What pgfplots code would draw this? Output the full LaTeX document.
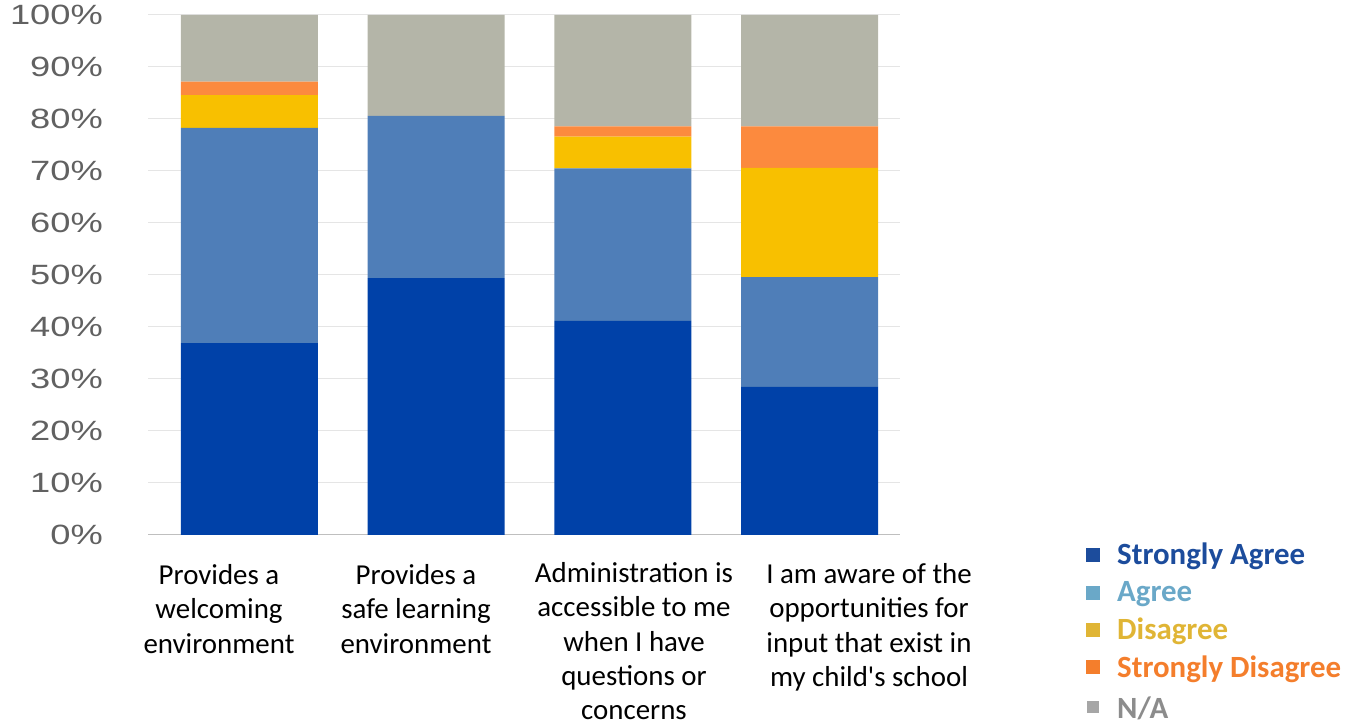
\documentclass[border=0pt]{standalone}
\usepackage{pgfplots}
\pgfplotsset{compat=1.18}
\usepackage{fontspec}
\setmainfont{Carlito}
\newfontfamily\tickfont{Liberation Sans}

\definecolor{sa}{HTML}{0041A8}
\definecolor{ag}{HTML}{4F7EB8}
\definecolor{di}{HTML}{F8C000}
\definecolor{sd}{HTML}{FC8A3E}
\definecolor{na}{HTML}{B4B5A8}
% legend colours
\definecolor{lsa}{HTML}{1C4C9C}
\definecolor{lag}{HTML}{6AA8C8}
\definecolor{ldi}{HTML}{E0B535}
\definecolor{lsd}{HTML}{F47E2C}
\definecolor{lna}{HTML}{8C8C8C}

\begin{document}
\begin{tikzpicture}
\path[use as bounding box] (0,0) rectangle (1363bp,727bp);
\begin{axis}[
    at={(148bp,192bp)}, anchor=south west,
    scale only axis, width=752bp, height=520bp,
    ybar stacked, bar width=0.733,
    xmin=-0.543, xmax=3.484, ymin=0, ymax=100,
    xtick=\empty, ytick={0,10,...,100},
    axis line style={draw=none}, major tick length=0pt,
    ymajorgrids, grid style={draw=black!10, line width=1bp},
    /pgf/number format/assume math mode=true,
    yticklabel={\scalebox{1.3}[1]{\tickfont\pgfmathprintnumber{\tick}\%}},
    yticklabel style={font=\fontsize{28}{28}\selectfont, text=black!62,
        anchor=east, inner sep=0pt, xshift=-45bp},
    every axis plot/.append style={draw=none},
]
\addplot[fill=sa] coordinates {(0,36.9) (1,49.4) (2,41.2) (3,28.5)};
\addplot[fill=ag] coordinates {(0,41.4) (1,31.2) (2,29.3) (3,21.1)};
\addplot[fill=di] coordinates {(0,6.3) (1,0) (2,6.1) (3,21.0)};
\addplot[fill=sd] coordinates {(0,2.6) (1,0) (2,2.0) (3,8.0)};
\addplot[fill=na] coordinates {(0,12.8) (1,19.4) (2,21.4) (3,21.4)};
\draw[black!25, line width=1.5bp] (axis cs:-0.543,0) -- (axis cs:3.484,0);
\end{axis}

% category labels
\begin{scope}[every node/.style={font=\fontsize{29}{34.5}\selectfont, align=center, anchor=north, inner sep=0pt}]
\node at (219bp,163bp) {Provides a\\welcoming\\environment};
\node at (416bp,163bp) {Provides a\\safe learning\\environment};
\node at (634bp,165bp) {Administration is\\accessible to me\\when I have\\questions or\\concerns};
\node at (869bp,164bp) {I am aware of the\\opportunities for\\input that exist in\\my child\textquotesingle s school};
\end{scope}

% legend
\begin{scope}[every node/.style={font=\fontsize{31}{31}\selectfont\bfseries, anchor=base west, inner sep=0pt}]
\fill[lsa] (1086bp,165bp) rectangle ++(14bp,14bp);
\node[text=lsa] at (1117bp,162bp) {Strongly Agree};
\fill[lag] (1086bp,127bp) rectangle ++(14bp,14bp);
\node[text=lag] at (1117bp,125bp) {Agree};
\fill[ldi] (1086bp,90bp) rectangle ++(14bp,14bp);
\node[text=ldi] at (1117bp,87bp) {Disagree};
\fill[lsd] (1086bp,53bp) rectangle ++(14bp,14bp);
\node[text=lsd] at (1117bp,49bp) {Strongly Disagree};
\fill[black!35] (1087bp,14bp) rectangle ++(12bp,12bp);
\node[text=lna] at (1117bp,9bp) {N/A};
\end{scope}
\end{tikzpicture}
\end{document}
